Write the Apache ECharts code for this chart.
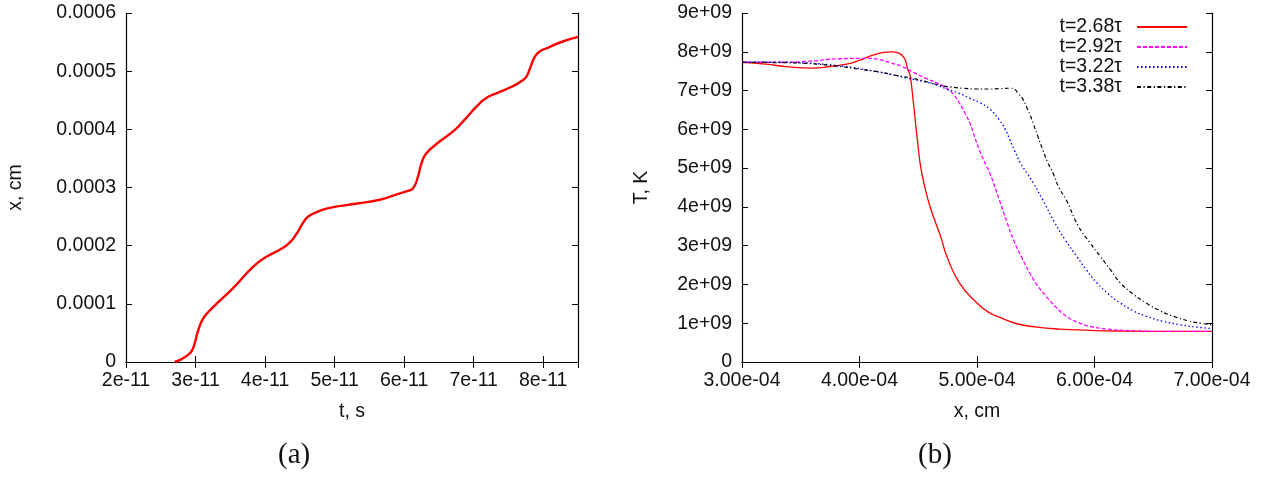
<!DOCTYPE html>
<html>
<head>
<meta charset="utf-8">
<script src="https://cdn.jsdelivr.net/npm/echarts@6/dist/echarts.min.js"></script>
<style>
html,body{margin:0;padding:0;background:#fff;}
#chart{width:1261px;height:481px;}
</style>
</head>
<body>
<div id="chart"></div>
<script>
// ---- Panel (a): front position x (cm) vs time t (s)
const timeA = [2.70e-11, 2.80e-11, 2.90e-11, 2.95e-11, 2.99e-11, 3.04e-11, 3.11e-11, 3.20e-11, 3.30e-11, 3.54e-11, 3.83e-11, 4.02e-11, 4.21e-11, 4.35e-11, 4.45e-11, 4.55e-11, 4.62e-11, 4.75e-11, 4.93e-11, 5.30e-11, 5.65e-11, 5.94e-11, 6.05e-11, 6.13e-11, 6.20e-11, 6.25e-11, 6.32e-11, 6.51e-11, 6.73e-11, 6.88e-11, 7.04e-11, 7.18e-11, 7.35e-11, 7.56e-11, 7.70e-11, 7.76e-11, 7.82e-11, 7.88e-11, 7.95e-11, 8.04e-11, 8.28e-11, 8.50e-11];
const posA  = [0, 0.05e-4, 0.13e-4, 0.20e-4, 0.33e-4, 0.55e-4, 0.75e-4, 0.88e-4, 1.00e-4, 1.27e-4, 1.64e-4, 1.81e-4, 1.93e-4, 2.05e-4, 2.20e-4, 2.40e-4, 2.50e-4, 2.58e-4, 2.65e-4, 2.72e-4, 2.79e-4, 2.90e-4, 2.94e-4, 2.99e-4, 3.19e-4, 3.42e-4, 3.59e-4, 3.79e-4, 3.99e-4, 4.18e-4, 4.39e-4, 4.54e-4, 4.63e-4, 4.74e-4, 4.84e-4, 4.91e-4, 5.08e-4, 5.25e-4, 5.34e-4, 5.39e-4, 5.51e-4, 5.59e-4];
const ticksA_x = [2e-11, 3e-11, 4e-11, 5e-11, 6e-11, 7e-11, 8e-11];
const ticksA_y = [0, 0.0001, 0.0002, 0.0003, 0.0004, 0.0005, 0.0006];

// ---- Panel (b): temperature T (K) vs x (cm)
const seriesNamesB = ['t=2.68τ', 't=2.92τ', 't=3.22τ', 't=3.38τ'];
const xB1 = [3.00e-4, 3.20e-4, 3.40e-4, 3.60e-4, 3.75e-4, 3.89e-4, 4.00e-4, 4.12e-4, 4.20e-4, 4.27e-4, 4.33e-4, 4.37e-4, 4.39e-4, 4.41e-4, 4.43e-4, 4.46e-4, 4.49e-4, 4.53e-4, 4.60e-4, 4.66e-4, 4.70e-4, 4.74e-4, 4.85e-4, 5.00e-4, 5.10e-4, 5.22e-4, 5.35e-4, 5.51e-4, 5.70e-4, 5.93e-4, 6.20e-4, 6.60e-4, 7.00e-4];
const TB1 = [7.73e9, 7.68e9, 7.61e9, 7.58e9, 7.62e9, 7.68e9, 7.78e9, 7.92e9, 7.98e9, 8.00e9, 7.97e9, 7.88e9, 7.79e9, 7.55e9, 7.40e9, 6.65e9, 5.80e9, 4.87e9, 4.01e9, 3.49e9, 3.15e9, 2.75e9, 2.04e9, 1.52e9, 1.28e9, 1.12e9, 0.98e9, 0.90e9, 0.85e9, 0.82e9, 0.80e9, 0.79e9, 0.79e9];
const xB2 = [3.00e-4, 3.30e-4, 3.55e-4, 3.83e-4, 4.06e-4, 4.17e-4, 4.26e-4, 4.36e-4, 4.46e-4, 4.56e-4, 4.67e-4, 4.74e-4, 4.80e-4, 4.85e-4, 4.90e-4, 4.94e-4, 4.98e-4, 5.02e-4, 5.08e-4, 5.11e-4, 5.19e-4, 5.25e-4, 5.31e-4, 5.38e-4, 5.45e-4, 5.52e-4, 5.59e-4, 5.67e-4, 5.76e-4, 5.86e-4, 5.96e-4, 6.10e-4, 6.30e-4, 6.60e-4, 7.00e-4];
const TB2 = [7.73e9, 7.73e9, 7.75e9, 7.82e9, 7.83e9, 7.80e9, 7.72e9, 7.62e9, 7.47e9, 7.32e9, 7.18e9, 7.06e9, 6.90e9, 6.68e9, 6.40e9, 6.16e9, 5.80e9, 5.47e9, 5.05e9, 4.87e9, 4.18e9, 3.65e9, 3.15e9, 2.70e9, 2.29e9, 1.95e9, 1.69e9, 1.42e9, 1.18e9, 1.02e9, 0.92e9, 0.85e9, 0.81e9, 0.79e9, 0.79e9];
const xB3 = [3.00e-4, 3.30e-4, 3.55e-4, 3.83e-4, 4.00e-4, 4.12e-4, 4.26e-4, 4.40e-4, 4.55e-4, 4.67e-4, 4.74e-4, 4.84e-4, 4.94e-4, 5.03e-4, 5.11e-4, 5.19e-4, 5.24e-4, 5.28e-4, 5.32e-4, 5.37e-4, 5.43e-4, 5.48e-4, 5.56e-4, 5.66e-4, 5.75e-4, 5.85e-4, 5.93e-4, 6.02e-4, 6.12e-4, 6.22e-4, 6.33e-4, 6.44e-4, 6.58e-4, 6.73e-4, 6.87e-4, 7.00e-4];
const TB3 = [7.73e9, 7.73e9, 7.71e9, 7.64e9, 7.57e9, 7.50e9, 7.42e9, 7.32e9, 7.23e9, 7.13e9, 7.04e9, 6.94e9, 6.80e9, 6.68e9, 6.52e9, 6.24e9, 6.00e9, 5.73e9, 5.45e9, 5.13e9, 4.85e9, 4.61e9, 4.18e9, 3.60e9, 3.15e9, 2.72e9, 2.38e9, 2.04e9, 1.75e9, 1.52e9, 1.32e9, 1.18e9, 1.05e9, 0.96e9, 0.90e9, 0.86e9];
const xB4 = [3.00e-4, 3.30e-4, 3.55e-4, 3.83e-4, 4.00e-4, 4.17e-4, 4.30e-4, 4.46e-4, 4.58e-4, 4.68e-4, 4.78e-4, 4.88e-4, 5.00e-4, 5.11e-4, 5.20e-4, 5.28e-4, 5.32e-4, 5.35e-4, 5.39e-4, 5.42e-4, 5.45e-4, 5.48e-4, 5.52e-4, 5.56e-4, 5.60e-4, 5.65e-4, 5.70e-4, 5.76e-4, 5.86e-4, 5.96e-4, 6.05e-4, 6.14e-4, 6.22e-4, 6.33e-4, 6.44e-4, 6.55e-4, 6.67e-4, 6.80e-4, 6.90e-4, 7.00e-4];
const TB4 = [7.73e9, 7.72e9, 7.70e9, 7.62e9, 7.55e9, 7.48e9, 7.40e9, 7.31e9, 7.22e9, 7.14e9, 7.09e9, 7.06e9, 7.04e9, 7.04e9, 7.05e9, 7.06e9, 7.03e9, 6.93e9, 6.78e9, 6.59e9, 6.38e9, 6.14e9, 5.80e9, 5.47e9, 5.16e9, 4.85e9, 4.48e9, 4.18e9, 3.52e9, 3.08e9, 2.72e9, 2.36e9, 2.04e9, 1.75e9, 1.52e9, 1.33e9, 1.18e9, 1.06e9, 1.00e9, 0.96e9];
const ticksB_x = [3e-4, 4e-4, 5e-4, 6e-4, 7e-4];
const ticksB_y = [0, 1e9, 2e9, 3e9, 4e9, 5e9, 6e9, 7e9, 8e9, 9e9];

const zip = (a, b) => a.map((v, i) => [v, b[i]]);

const FONT = 'Liberation Sans';
const FS = 19.5;
const labelStyle = {color: '#111', fontSize: FS, fontFamily: FONT};
const lineAxis = {show: true, lineStyle: {color: '#000', width: 1.2}};
const tickIn = {show: true, inside: true, length: 6, lineStyle: {color: '#000', width: 1}};

const fmtA_x = v => Math.round(v * 1e11) + 'e-11';
const fmtA_y = v => v === 0 ? '0' : v.toFixed(4);
const fmtB_x = v => (v * 1e4).toFixed(2) + 'e-04';
const fmtB_y = v => v === 0 ? '0' : Math.round(v / 1e9) + 'e+09';

function xAx(grid, min, max, interval, fmt, name, top, hideMax) {
  return {
    type: 'value', gridIndex: grid, min: min, max: max, interval: interval,
    position: top ? 'top' : 'bottom',
    name: top ? '' : name, nameLocation: 'middle', nameGap: 40,
    nameTextStyle: {color: '#111', fontSize: FS, fontFamily: FONT},
    axisLine: lineAxis, axisTick: tickIn,
    axisLabel: top ? {show: false} : Object.assign({formatter: fmt, margin: 9, showMaxLabel: !hideMax, showMinLabel: true, hideOverlap: false}, labelStyle),
    splitLine: {show: false}
  };
}
function yAx(grid, min, max, interval, fmt, name, right, gap) {
  return {
    type: 'value', gridIndex: grid, min: min, max: max, interval: interval,
    position: right ? 'right' : 'left',
    name: right ? '' : name, nameLocation: 'middle', nameGap: gap, nameRotate: 90,
    nameTextStyle: {color: '#111', fontSize: FS, fontFamily: FONT},
    axisLine: lineAxis, axisTick: tickIn,
    axisLabel: right ? {show: false} : Object.assign({formatter: fmt, margin: 10}, labelStyle),
    splitLine: {show: false}
  };
}

const chart = echarts.init(document.getElementById('chart'), null, {renderer: 'canvas'});
const option = {
  backgroundColor: '#fff',
  animation: false,
  grid: [
    {left: 126, top: 13, width: 452, height: 349},
    {left: 742, top: 13, width: 470, height: 349}
  ],
  xAxis: [
    xAx(0, ticksA_x[0], 8.5e-11, 1e-11, fmtA_x, 't, s', false, true),
    xAx(0, ticksA_x[0], 8.5e-11, 1e-11, fmtA_x, '', true, true),
    xAx(1, ticksB_x[0], ticksB_x[ticksB_x.length - 1], 1e-4, fmtB_x, 'x, cm', false, false),
    xAx(1, ticksB_x[0], ticksB_x[ticksB_x.length - 1], 1e-4, fmtB_x, '', true, false)
  ],
  yAxis: [
    yAx(0, ticksA_y[0], ticksA_y[ticksA_y.length - 1], 0.0001, fmtA_y, 'x, cm', false, 100),
    yAx(0, ticksA_y[0], ticksA_y[ticksA_y.length - 1], 0.0001, fmtA_y, '', true, 0),
    yAx(1, ticksB_y[0], ticksB_y[ticksB_y.length - 1], 1e9, fmtB_y, 'T, K', false, 90),
    yAx(1, ticksB_y[0], ticksB_y[ticksB_y.length - 1], 1e9, fmtB_y, '', true, 0)
  ],
  legend: {
    data: seriesNamesB,
    orient: 'vertical',
    right: 68, top: 12,
    align: 'right',
    itemWidth: 50, itemHeight: 12, itemGap: 0,
    itemStyle: {opacity: 0},
    textStyle: {color: '#111', fontSize: FS, fontFamily: FONT, lineHeight: 19.5, padding: [0, 10, 0, 0]},
    inactiveColor: '#111'
  },
  series: [
    {type: 'line', xAxisIndex: 0, yAxisIndex: 0, data: zip(timeA, posA), showSymbol: false, symbol: 'none',
     smooth: 0.5, lineStyle: {color: '#ff0000', width: 2.4}, itemStyle: {color: '#ff0000'}},
    {name: seriesNamesB[0], type: 'line', xAxisIndex: 2, yAxisIndex: 2, data: zip(xB1, TB1), symbol: 'none',
     smooth: 0.5, lineStyle: {color: '#ff0000', width: 1.3, type: 'solid'}, itemStyle: {color: '#ff0000'}},
    {name: seriesNamesB[1], type: 'line', xAxisIndex: 2, yAxisIndex: 2, data: zip(xB2, TB2), symbol: 'none',
     smooth: 0.5, lineStyle: {color: '#ff00ff', width: 1.3, type: [4, 2]}, itemStyle: {color: '#ff00ff'}},
    {name: seriesNamesB[2], type: 'line', xAxisIndex: 2, yAxisIndex: 2, data: zip(xB3, TB3), symbol: 'none',
     smooth: 0.5, lineStyle: {color: '#0000ff', width: 1.3, type: [1.5, 2.5]}, itemStyle: {color: '#0000ff'}},
    {name: seriesNamesB[3], type: 'line', xAxisIndex: 2, yAxisIndex: 2, data: zip(xB4, TB4), symbol: 'none',
     smooth: 0.5, lineStyle: {color: '#000000', width: 1.2, type: [4, 2.5, 1.2, 2.5]}, itemStyle: {color: '#000000'}}
  ],
  graphic: [
    {type: 'text', left: 297 - 19, top: 441, style: {text: '(a)', font: '29px "Liberation Serif"', fill: '#111'}},
    {type: 'text', left: 937 - 19, top: 441, style: {text: '(b)', font: '29px "Liberation Serif"', fill: '#111'}}
  ]
};
chart.setOption(option);
</script>
</body>
</html>
